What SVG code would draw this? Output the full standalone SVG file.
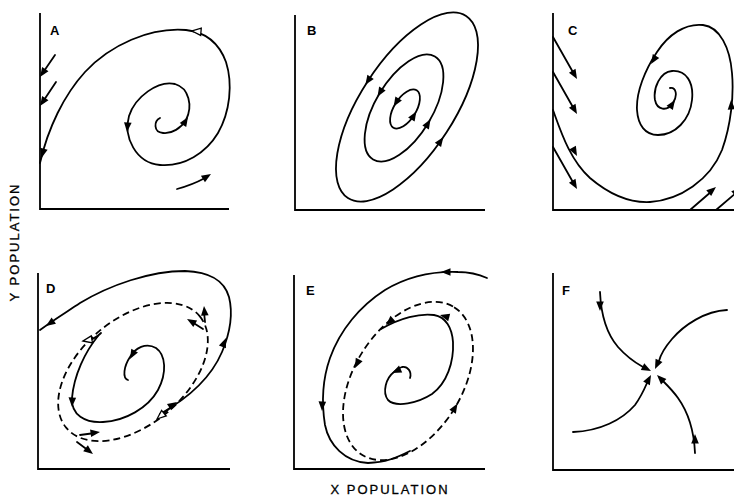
<svg xmlns="http://www.w3.org/2000/svg" xmlns:xlink="http://www.w3.org/1999/xlink" width="734" height="498" viewBox="0 0 734 498">
<style>
.ax{fill:none;stroke:#000;stroke-width:1.8}
.c{fill:none;stroke:#000;stroke-width:1.8;stroke-linecap:round}
.d{fill:none;stroke:#000;stroke-width:1.8;stroke-dasharray:7 4}
.lbl{font-family:"Liberation Sans",Arial,sans-serif;font-size:13px;font-weight:bold;fill:#000}
.ttl{font-family:"Liberation Sans",Arial,sans-serif;font-size:13px;letter-spacing:2px;fill:#000;stroke:#000;stroke-width:0.3}
</style>
<defs>
<path id="ah" d="M0,0 L-9.5,-3.8 L-9.5,3.8 Z" fill="#000"/>
<path id="aho" d="M0,0 L-9,-3.6 L-9,3.6 Z" fill="#fff" stroke="#000" stroke-width="1.3" stroke-linejoin="miter"/>
</defs>
<rect width="734" height="498" fill="#fff"/>

<g id="panel-a">
<path class="ax" d="M40,13 V209 H229"/>
<text class="lbl" x="50" y="35">A</text>
<path class="c" d="M160,118 C154,121 153,132 163,133 C172,134 181,128 186,120 C193,106 189,88 175,84 C158,80 135,97 129,116 C123,137 136,163 160,165 C184,167 206,153 218,133 C230,112 233,84 226,62 C219,43 205,32 186,30 C150,27 110,45 85,72 C64,95 48,128 40,163"/>
<use href="#ah" transform="translate(188,117) rotate(-58)"/>
<use href="#ah" transform="translate(127,132) rotate(95)"/>
<use href="#aho" transform="translate(192,31) rotate(185)"/>
<use href="#ah" transform="translate(41.5,158) rotate(105)"/>
<path class="c" d="M55,55 L42,74"/>
<use href="#ah" transform="translate(40,77) rotate(124)"/>
<path class="c" d="M56,82 L42,103"/>
<use href="#ah" transform="translate(40,106) rotate(124)"/>
<path class="c" d="M177,189 Q192,185 205,178"/>
<use href="#ah" transform="translate(211,174) rotate(-32)"/>
</g>

<g id="panel-b">
<path class="ax" d="M295,15 V210 H485"/>
<text class="lbl" x="307" y="35">B</text>
<ellipse class="c" cx="407" cy="107" rx="108.5" ry="47" transform="rotate(-57 407 107)"/>
<ellipse class="c" cx="404" cy="108" rx="60" ry="28.5" transform="rotate(-59 404 108)"/>
<ellipse class="c" cx="405" cy="109" rx="22" ry="11" transform="rotate(-58 405 109)"/>
<use href="#ah" transform="translate(365.4,84.8) rotate(123)"/>
<use href="#ah" transform="translate(443.4,137.1) rotate(-55)"/>
<use href="#ah" transform="translate(377.5,96.7) rotate(121)"/>
<use href="#ah" transform="translate(430.5,119.3) rotate(-59)"/>
<use href="#ah" transform="translate(393.6,106.6) rotate(122)"/>
<use href="#ah" transform="translate(416.4,111.4) rotate(-58)"/>
</g>

<g id="panel-c">
<path class="ax" d="M553,13 V210 H734"/>
<text class="lbl" x="568" y="35">C</text>
<path class="c" d="M553,110 C561,132 570,160 590,178 C610,195 630,203 650,202 C680,200 710,180 722,150 C731,125 734,95 732,73 C730,48 720,27 703,25 C685,23 668,35 657,52 C645,70 636,92 637,110 C638,125 645,135 658,135 C675,135 690,120 692,100 C694,82 686,70 672,71 C660,72 653,88 655,100 C657,110 667,112 673,103 C678,95 676,87 670,88"/>
<use href="#ah" transform="translate(577,156) rotate(62)"/>
<use href="#ah" transform="translate(731,100) rotate(-93)"/>
<use href="#ah" transform="translate(651,64) rotate(122)"/>
<use href="#ah" transform="translate(675,100) rotate(-56)"/>
<path class="c" d="M553,37 L574,74"/>
<use href="#ah" transform="translate(577,79) rotate(60)"/>
<path class="c" d="M553,72 L574,109"/>
<use href="#ah" transform="translate(577,114) rotate(60)"/>
<path class="c" d="M553,147 L574,184"/>
<use href="#ah" transform="translate(577,189) rotate(60)"/>
<path class="c" d="M690,210 L712,191"/>
<use href="#ah" transform="translate(716,187) rotate(-40)"/>
<path class="c" d="M716,210 L737,192"/>
<use href="#ah" transform="translate(741,188) rotate(-40)"/>
</g>

<g id="panel-d">
<path class="ax" d="M38,273 V469 H230"/>
<text class="lbl" x="46" y="293">D</text>
<ellipse class="d" cx="133" cy="372" rx="87" ry="53" transform="rotate(-40 133 372)"/>
<path class="c" d="M160,414 C185,400 210,380 222,352 C230,333 233,313 229,297 C224,280 210,272 185,271 C150,271 110,285 80,303 C65,313 52,321 40,330"/>
<use href="#ah" transform="translate(177,402) rotate(-33)"/>
<use href="#ah" transform="translate(226,338) rotate(-68)"/>
<use href="#ah" transform="translate(46,326) rotate(145)"/>
<path class="c" d="M170,408 L163,414"/>
<use href="#aho" transform="translate(157,419) rotate(140)"/>
<path class="c" d="M98,336 C85,352 74,375 72,398 C71,415 85,423 103,422 C125,421 148,408 158,390 C167,373 166,355 156,348 C146,342 135,348 130,357 C124,366 122,378 128,380"/>
<use href="#ah" transform="translate(72,407) rotate(92)"/>
<use href="#ah" transform="translate(130,359) rotate(119)"/>
<path class="c" d="M101,333 C97,337 93,339 89,340"/>
<use href="#aho" transform="translate(83,341) rotate(170)"/>
<path class="c" d="M203,329 L192,322"/>
<use href="#ah" transform="translate(187,319) rotate(-150)"/>
<path class="c" d="M205,322 L204,312"/>
<use href="#ah" transform="translate(204,306) rotate(-95)"/>
<path class="c" d="M80,435 L95,433"/>
<use href="#ah" transform="translate(100,432) rotate(-8)"/>
<path class="c" d="M77,442 L89,451"/>
<use href="#ah" transform="translate(93,454) rotate(38)"/>
</g>

<g id="panel-e">
<path class="ax" d="M294,275 V469 H485"/>
<text class="lbl" x="306" y="295">E</text>
<ellipse class="d" cx="408" cy="381" rx="87" ry="54" transform="rotate(-58 408 381)"/>
<path class="c" d="M487,278 C478,274 470,272 458,272 C430,271 405,278 385,290 C360,306 340,330 330,358 C323,378 321,400 325,425 C329,445 345,462 368,463 C385,463 398,457 410,451"/>
<use href="#ah" transform="translate(441,272) rotate(180)"/>
<use href="#ah" transform="translate(322,411) rotate(92)"/>
<path class="c" d="M410,378 C412,372 408,366 402,367 C398,368 396,370 394,372 C386,378 382,392 388,400 C396,408 418,403 432,394 C447,383 454,362 453,342 C452,328 446,317 434,315 C420,313 400,318 381,329"/>
<use href="#ah" transform="translate(392,373) rotate(155)"/>
<use href="#ah" transform="translate(440,315) rotate(-165)"/>
<use href="#ah" transform="translate(386,325) rotate(138)"/>
<use href="#ah" transform="translate(355,368) rotate(116)"/>
<use href="#ah" transform="translate(457.5,403.6) rotate(-59)"/>
</g>

<g id="panel-f">
<path class="ax" d="M553,273 V470 H734"/>
<text class="lbl" x="562" y="295">F</text>
<path class="c" d="M600,292 C601,315 606,333 618,347 C626,356 634,362 643,367"/>
<use href="#ah" transform="translate(651,371) rotate(27)"/>
<use href="#ah" transform="translate(600,311) rotate(90)"/>
<path class="c" d="M727,310 C705,311 684,325 672,339 C666,346 661,353 659,361"/>
<use href="#ah" transform="translate(655,369) rotate(115)"/>
<path class="c" d="M573,432 C600,431 622,420 635,405 C640,398 644,390 647,383"/>
<use href="#ah" transform="translate(651,375) rotate(-62)"/>
<path class="c" d="M695,453 C694,430 688,412 678,398 C673,391 668,386 663,381"/>
<use href="#ah" transform="translate(657,375) rotate(-135)"/>
<use href="#ah" transform="translate(695,434) rotate(-90)"/>
</g>

<g id="axis-titles">
<text class="ttl" x="19" y="242" text-anchor="middle" transform="rotate(-90 19 242)">Y  POPULATION</text>
<text class="ttl" x="390" y="494" text-anchor="middle">X  POPULATION</text>
</g>
</svg>
